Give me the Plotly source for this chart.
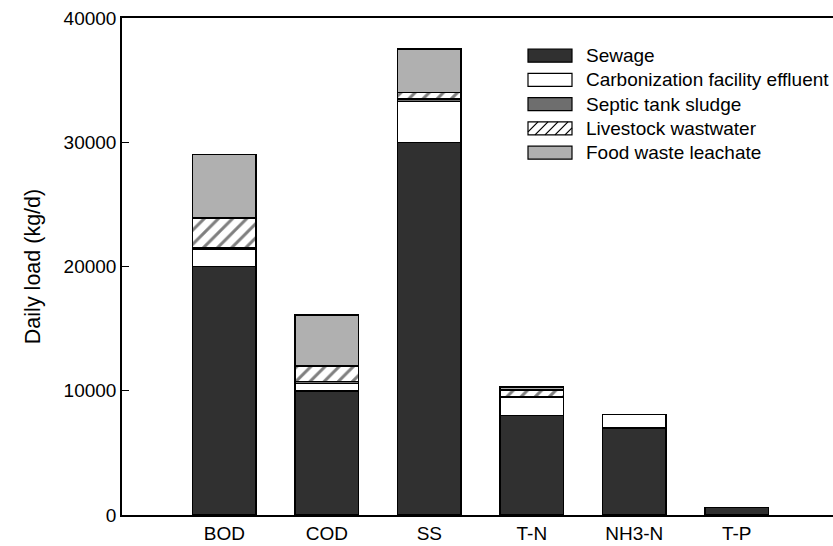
import plotly.graph_objects as go

# Daily pollutant load by source (kg/d)
categories = ["BOD", "COD", "SS", "T-N", "NH3-N", "T-P"]
sewage = [20000, 10000, 30000, 8000, 7000, 600]
carbonization = [1400, 600, 3300, 1450, 1100, 0]
septic = [100, 150, 200, 100, 0, 0]
livestock = [2400, 1250, 500, 500, 0, 0]
food_waste = [5100, 4100, 3500, 250, 0, 0]

series_names = [
    "Sewage",
    "Carbonization facility effluent",
    "Septic tank sludge",
    "Livestock wastwater",
    "Food waste leachate",
]
series_values = [sewage, carbonization, septic, livestock, food_waste]

FONT = "Liberation Sans, Arial, sans-serif"
FS = 19
W, H = 833, 546
ML, MR, MT, MB = 122, 0, 18, 31

styles = [
    dict(color="#303030"),
    dict(color="#ffffff"),
    dict(color="#6e6e6e"),
    dict(color="#ffffff", pattern=dict(shape="/", fgcolor="#000000", bgcolor="#ffffff",
                                       size=10, solidity=0.3)),
    dict(color="#b0b0b0"),
]

fig = go.Figure()
for name, vals, st in zip(series_names, series_values, styles):
    fig.add_trace(go.Bar(
        x=categories, y=vals, name=name, width=0.62,
        marker=dict(line=dict(color="#000000", width=1.5), **st),
        showlegend=False,
    ))

# Legend drawn in pixel space, converted to paper fractions
pw, ph = W - ML - MR, H - MT - MB


def px(x):
    return (x - ML) / pw


def py(y):
    return (H - MB - y) / ph


shapes = []
annotations = []
row0, step = 55.7, 24.25
sw_x0, sw_x1, sw_h = 528, 572, 13
for i, (name, st) in enumerate(zip(series_names, styles)):
    cy = row0 + i * step
    y0, y1 = cy - sw_h / 2, cy + sw_h / 2
    fill = st["color"]
    shapes.append(dict(type="rect", xref="paper", yref="paper",
                       x0=px(sw_x0), x1=px(sw_x1), y0=py(y1), y1=py(y0),
                       fillcolor=fill, line=dict(color="#000000", width=1.2)))
    if "pattern" in st:
        k = -sw_h
        while k < sw_x1 - sw_x0:
            xa, xb = k, k + sw_h
            ya, yb = y1, y0
            # clip the diagonal to the swatch box
            if xa < 0:
                ya = y1 - (0 - xa)
                xa = 0
            if xb > sw_x1 - sw_x0:
                yb = y0 + (xb - (sw_x1 - sw_x0))
                xb = sw_x1 - sw_x0
            shapes.append(dict(type="line", xref="paper", yref="paper",
                               x0=px(sw_x0 + xa), y0=py(ya), x1=px(sw_x0 + xb), y1=py(yb),
                               line=dict(color="#000000", width=1.2)))
            k += 10
    annotations.append(dict(text=name, xref="paper", yref="paper",
                            x=px(584), y=py(cy), xanchor="left", yanchor="middle",
                            showarrow=False, font=dict(family=FONT, size=FS, color="#000000")))

fig.update_layout(
    width=W, height=H,
    margin=dict(l=ML, r=MR, t=MT, b=MB, pad=0),
    barmode="stack",
    bargap=0.38,
    plot_bgcolor="#ffffff",
    paper_bgcolor="#ffffff",
    font=dict(family=FONT, size=FS, color="#000000"),
    shapes=shapes,
    annotations=annotations,
    xaxis=dict(
        range=[-1.0, 5.94], showline=True, linecolor="#000000", linewidth=1.5,
        mirror=True, ticks="", showgrid=False, zeroline=False,
        tickfont=dict(size=FS), ticklabelstandoff=0,
    ),
    yaxis=dict(
        range=[0, 40000], showline=True, linecolor="#000000", linewidth=1.5,
        ticks="inside", ticklen=7, tickcolor="#000000", tickwidth=1.2,
        tickvals=[0, 10000, 20000, 30000, 40000], tickformat="d",
        showgrid=False, zeroline=False, tickfont=dict(size=FS),
        title=dict(text="Daily load (kg/d)", font=dict(size=21.5), standoff=17),
    ),
)

fig.write_html("out.html")
